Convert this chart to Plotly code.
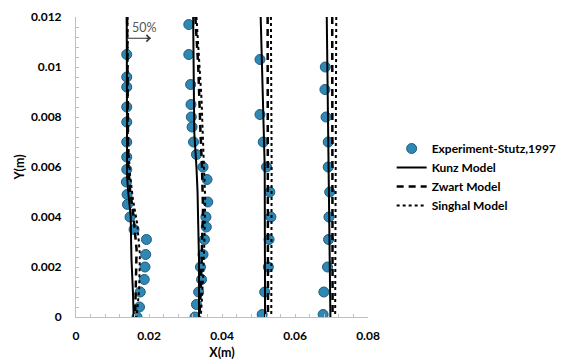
import plotly.graph_objects as go

# ---------------- data ----------------
# Experiment-Stutz,1997 (four stations)
exp1_x = [0.0139, 0.0139, 0.0139, 0.0139, 0.0139, 0.0139, 0.0139, 0.0139, 0.0138, 0.0140,
          0.0141, 0.0148, 0.0159, 0.0193, 0.0191, 0.0189, 0.0187, 0.0176, 0.0174, 0.0167]
exp1_y = [0.0105, 0.0096, 0.0092, 0.0084, 0.0078, 0.0070, 0.0064, 0.0059, 0.0054, 0.0049,
          0.0045, 0.0040, 0.0035, 0.0031, 0.0025, 0.0020, 0.0015, 0.0010, 0.0004, 0.0000]
exp2_x = [0.0309, 0.0309, 0.0314, 0.0315, 0.0316, 0.0318, 0.0322, 0.0330, 0.0348, 0.0359,
          0.0361, 0.0356, 0.0357, 0.0352, 0.0348, 0.0341, 0.0344, 0.0336, 0.0330, 0.0326]
exp2_y = [0.0117, 0.0105, 0.0093, 0.0085, 0.0080, 0.0076, 0.0070, 0.0065, 0.0060, 0.0055,
          0.0046, 0.0040, 0.0036, 0.0031, 0.0025, 0.0020, 0.0015, 0.0010, 0.0005, 0.0000]
exp3_x = [0.0504, 0.0504, 0.0513, 0.0522, 0.0531, 0.0534, 0.0529, 0.0527, 0.0517, 0.0510]
exp3_y = [0.0103, 0.0081, 0.0070, 0.0060, 0.0050, 0.0040, 0.0031, 0.0020, 0.0010, 0.0001]
exp4_x = [0.0683, 0.0682, 0.0685, 0.0691, 0.0691, 0.0695, 0.0693, 0.0692, 0.0689, 0.0679, 0.0677]
exp4_y = [0.0100, 0.0091, 0.0080, 0.0070, 0.0060, 0.0050, 0.0040, 0.0031, 0.0020, 0.0010, 0.0001]

# Kunz Model
kunz1_x = [0.0139, 0.0139, 0.0140, 0.0143, 0.0150, 0.0151, 0.0152, 0.0156, 0.0158]
kunz1_y = [0.0120, 0.0063, 0.0056, 0.0050, 0.0040, 0.0030, 0.0023, 0.0010, 0.0000]
kunz2_x = [0.0321, 0.0324, 0.0330, 0.0333, 0.0335, 0.0337, 0.0337]
kunz2_y = [0.0120, 0.0074, 0.0060, 0.0050, 0.0036, 0.0023, 0.0000]
kunz3_x = [0.0506, 0.0517, 0.0518]
kunz3_y = [0.0120, 0.0060, 0.0000]
kunz4_x = [0.0687, 0.0691, 0.0697]
kunz4_y = [0.0120, 0.0060, 0.0000]

# Zwart Model
zwart1_x = [0.0140, 0.0141, 0.0143, 0.0148, 0.0157, 0.0166, 0.0164, 0.0162]
zwart1_y = [0.0120, 0.0075, 0.0061, 0.0051, 0.0041, 0.0027, 0.0011, 0.0000]
zwart2_x = [0.0327, 0.0335, 0.0341, 0.0345, 0.0348, 0.0346, 0.0342, 0.0338]
zwart2_y = [0.0120, 0.0100, 0.0074, 0.0061, 0.0043, 0.0029, 0.0011, 0.0000]
zwart3_x = [0.0525, 0.0526, 0.0526]
zwart3_y = [0.0120, 0.0060, 0.0000]
zwart4_x = [0.0702, 0.0702, 0.0703]
zwart4_y = [0.0120, 0.0060, 0.0000]

# Singhal Model
singhal1_x = [0.0141, 0.0142, 0.0148, 0.0156, 0.0168, 0.0175, 0.0173, 0.0166]
singhal1_y = [0.0120, 0.0071, 0.0057, 0.0047, 0.0037, 0.0025, 0.0011, 0.0000]
singhal2_x = [0.0330, 0.0339, 0.0344, 0.0347, 0.0351, 0.0354, 0.0352, 0.0348, 0.0342]
singhal2_y = [0.0120, 0.0100, 0.0087, 0.0074, 0.0061, 0.0047, 0.0031, 0.0015, 0.0000]
singhal3_x = [0.0534, 0.0536, 0.0535]
singhal3_y = [0.0120, 0.0060, 0.0000]
singhal4_x = [0.0713, 0.0711, 0.0710]
singhal4_y = [0.0120, 0.0060, 0.0000]

x_tickvals = [0, 0.02, 0.04, 0.06, 0.08]
x_ticktext = ["0", "0.02", "0.04", "0.06", "0.08"]
y_tickvals = [0, 0.002, 0.004, 0.006, 0.008, 0.010, 0.012]
y_ticktext = ["0", "0.002", "0.004", "0.006", "0.008", "0.01", "0.012"]

# "50%" scale arrow (data coords)
arrow_tail = (0.0139, 0.01115)
arrow_tip = (0.0205, 0.01115)
arrow_label = "50%"
arrow_label_pos = (0.0187, 0.01157)


def join(*segs):
    out = []
    for i, s in enumerate(segs):
        if i:
            out.append(None)
        out.extend(s)
    return out


FONT = "Lato"
fig = go.Figure()

fig.add_trace(go.Scatter(
    x=join(exp1_x, exp2_x, exp3_x, exp4_x), y=join(exp1_y, exp2_y, exp3_y, exp4_y),
    mode="markers", name="Experiment-Stutz,1997",
    marker=dict(size=10, color="#2f87b3", line=dict(color="#1d5d80", width=1)),
))
fig.add_trace(go.Scatter(
    x=join(kunz1_x, kunz2_x, kunz3_x, kunz4_x), y=join(kunz1_y, kunz2_y, kunz3_y, kunz4_y),
    mode="lines", name="Kunz Model", line=dict(color="black", width=2),
))
fig.add_trace(go.Scatter(
    x=join(zwart1_x, zwart2_x, zwart3_x, zwart4_x), y=join(zwart1_y, zwart2_y, zwart3_y, zwart4_y),
    mode="lines", name="Zwart Model", line=dict(color="black", width=2.5, dash="7px,5px"),
))
fig.add_trace(go.Scatter(
    x=join(singhal1_x, singhal2_x, singhal3_x, singhal4_x),
    y=join(singhal1_y, singhal2_y, singhal3_y, singhal4_y),
    mode="lines", name="Singhal Model", line=dict(color="black", width=2, dash="dot"),
))

axis_common = dict(
    showgrid=False, zeroline=False, showline=True, linecolor="#bfbfbf", linewidth=1,
    ticks="inside", ticklen=3, tickcolor="#bfbfbf",
    tickfont=dict(family=FONT, size=12, color="black", weight="bold"),
)

fig.update_xaxes(
    range=[0, 0.08], tickvals=x_tickvals, ticktext=x_ticktext,
    minor=dict(ticks="inside", ticklen=3, tickcolor="#bfbfbf", dtick=0.004, tick0=0),
    title=dict(text="X(m)", font=dict(family=FONT, size=12.5, color="black", weight="bold"), standoff=6),
    ticklabelstandoff=8, automargin=False, **axis_common,
)
fig.update_yaxes(
    range=[0, 0.012], tickvals=y_tickvals, ticktext=y_ticktext,
    minor=dict(ticks="inside", ticklen=3, tickcolor="#bfbfbf", dtick=0.0004, tick0=0),
    title=dict(text="Y(m)", font=dict(family=FONT, size=12.5, color="black", weight="bold"), standoff=3),
    ticklabelstandoff=11, automargin=False, **axis_common,
)

# arrow shaft + head
fig.add_shape(
    type="line", xref="x", yref="y",
    x0=arrow_tail[0], y0=arrow_tail[1], x1=arrow_tip[0], y1=arrow_tip[1],
    line=dict(color="#333333", width=1),
)
fig.add_annotation(
    x=arrow_tip[0], y=arrow_tip[1], ax=-6, ay=0,
    xref="x", yref="y", text="",
    showarrow=True, arrowhead=4, arrowsize=1.3, arrowwidth=1, arrowcolor="#333333",
)
fig.add_annotation(
    x=arrow_label_pos[0], y=arrow_label_pos[1], xref="x", yref="y", text=arrow_label,
    showarrow=False, font=dict(family=FONT, size=12.5, color="#555555"),
)

fig.update_layout(
    width=561, height=360,
    margin=dict(l=76, r=193, t=17, b=43, autoexpand=False),
    paper_bgcolor="white", plot_bgcolor="white",
    showlegend=True,
    legend=dict(
        x=1.081, y=0.61, xanchor="left", yanchor="top",
        font=dict(family=FONT, size=12, color="black", weight="bold"),
        bgcolor="rgba(0,0,0,0)", itemwidth=30, tracegroupgap=0,
    ),
)

fig.write_html("out.html")
